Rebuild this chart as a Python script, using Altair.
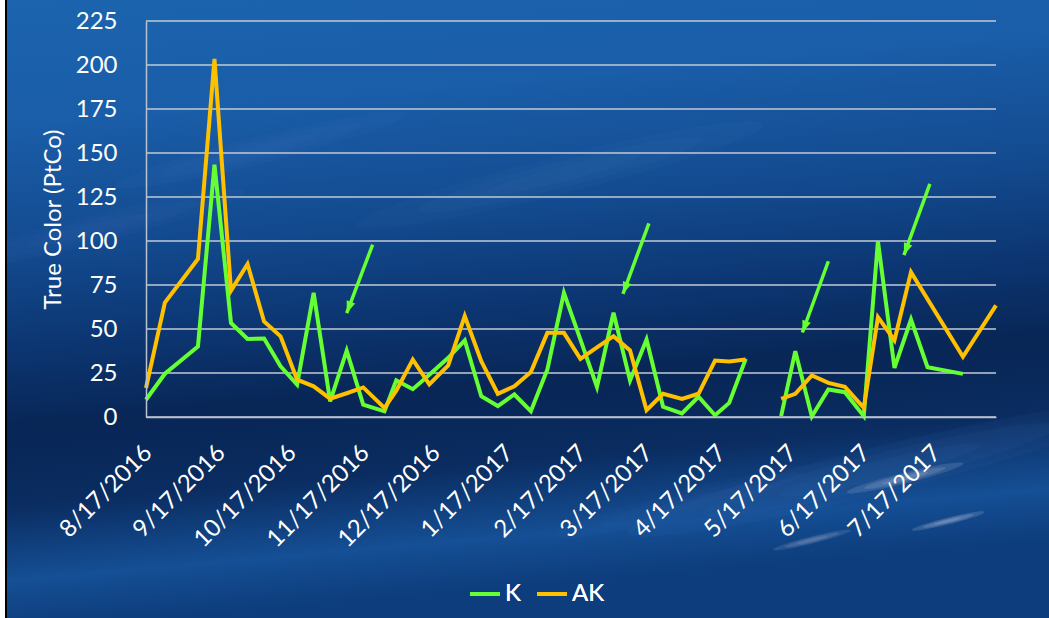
import altair as alt
import pandas as pd

# Sampling dates and true colour readings (PtCo) for the two sites
dates = [
    "2016-08-17", "2016-08-25", "2016-09-08", "2016-09-15", "2016-09-22", "2016-09-29",
    "2016-10-06", "2016-10-13", "2016-10-20", "2016-10-27", "2016-11-03", "2016-11-10",
    "2016-11-17", "2016-11-26", "2016-12-01", "2016-12-08", "2016-12-15", "2016-12-23",
    "2016-12-30", "2017-01-06", "2017-01-13", "2017-01-20", "2017-01-27", "2017-02-03",
    "2017-02-10", "2017-02-17", "2017-02-24", "2017-03-03", "2017-03-10", "2017-03-17",
    "2017-03-24", "2017-04-01", "2017-04-08", "2017-04-15", "2017-04-21", "2017-04-28",
    "2017-05-13", "2017-05-19", "2017-05-26", "2017-06-02", "2017-06-09", "2017-06-17",
    "2017-06-23", "2017-06-30", "2017-07-07", "2017-07-14", "2017-07-29", "2017-08-12",
]
k_vals = [
    9.8, 24.6, 40.1, 143.3, 53.4, 44.3,
    44.6, 28.8, 18.4, 70.5, 8.9, 37.7,
    7.0, 3.2, 20.8, 15.8, 24.0, 33.6,
    43.5, 11.8, 6.2, 12.8, 3.3, 27.0,
    70.5, 44.0, 17.1, 59.2, 20.7, 44.0,
    5.8, 2.0, 11.5, 1.0, 8.0, 33.0,
    0.5, 37.4, 0.3, 15.6, 14.1, 0.5,
    99.9, 27.9, 55.4, 28.3, 24.5, None,
]
ak_vals = [
    16.5, 65.0, 89.8, 203.4, 71.8, 86.9,
    54.3, 45.8, 21.2, 17.4, 10.4, 13.5,
    16.8, 5.1, 15.0, 32.6, 18.5, 29.3,
    57.3, 31.7, 13.2, 17.5, 25.5, 47.8,
    47.8, 33.0, 39.5, 45.9, 37.8, 3.9,
    13.2, 10.3, 13.2, 32.1, 31.5, 32.7,
    10.3, 13.2, 23.6, 19.4, 17.1, 5.2,
    56.7, 43.6, 82.3, None, 34.2, 63.4,
]
# No samples between these two dates: the lines break there
gap_after = "2017-04-28"

series_names = ["K", "AK"]
series_colors = ["#66FF33", "#FFC000"]

y_ticks = [0, 25, 50, 75, 100, 125, 150, 175, 200, 225]
x_ticks = [
    (2016, 8, 17), (2016, 9, 17), (2016, 10, 17), (2016, 11, 17), (2016, 12, 17),
    (2017, 1, 17), (2017, 2, 17), (2017, 3, 17), (2017, 4, 17), (2017, 5, 17),
    (2017, 6, 17), (2017, 7, 17),
]
x_start = (2016, 8, 17)
x_end = (2017, 8, 12)

# Highlight arrows: tail (date, value) -> head (date, value)
arrow_tail_dates = ["2016-11-21", "2017-03-18", "2017-06-02", "2017-07-15"]
arrow_tail_vals = [98.0, 110.0, 88.5, 132.5]
arrow_head_dates = ["2016-11-10", "2017-03-07", "2017-05-22", "2017-07-04"]
arrow_head_vals = [59.0, 70.0, 48.0, 92.0]

PAGE_W, PAGE_H = 1049, 618
W, H = 850, 396
LEFT, TOP = 146, 21
FONT = "Lato"

# Backdrop light streaks (page pixels): centre x, centre y, length, opacity, colour
streak_cx = [90, 260, 560, 880, 905, 948, 812, 700]
streak_cy = [230, 150, 175, 470, 478, 521, 540, 500]
streak_len = [320, 300, 420, 520, 120, 75, 80, 300]
streak_op = [0.06, 0.05, 0.05, 0.12, 0.30, 0.35, 0.28, 0.08]
streak_col = ["#9cc4f0", "#9cc4f0", "#9cc4f0", "#5d96d8", "#e4e0f4", "#e8e4f6", "#d8d4f0", "#5d96d8"]

rows = []
for d, k, ak in zip(dates, k_vals, ak_vals):
    part = 1 if d > gap_after else 0
    for name, v in (("K", k), ("AK", ak)):
        if v is not None:
            rows.append({"date": d, "value": v, "series": name, "run": f"{name}{part}"})
df = pd.DataFrame(rows)

arrows = pd.DataFrame({
    "d0": arrow_tail_dates, "v0": arrow_tail_vals,
    "d1": arrow_head_dates, "v1": arrow_head_vals,
})
grid_df = pd.DataFrame({"value": y_ticks})

# Each streak is drawn as three nested ellipses to soften its edge
streak_rows = []
for cx, cy, ln, op, col in zip(streak_cx, streak_cy, streak_len, streak_op, streak_col):
    for f in (1.0, 0.7, 0.4):
        streak_rows.append({
            "px": cx - LEFT, "py": cy - TOP,
            "sz": (ln * f) ** 2, "op": op / 2.2, "col": col,
        })
streaks_df = pd.DataFrame(streak_rows)


def dt(t):
    return alt.DateTime(year=t[0], month=t[1], date=t[2], utc=True)


x_scale = alt.Scale(type="utc", domain=[dt(x_start), dt(x_end)], nice=False)
y_scale = alt.Scale(domain=[0, 225], nice=False)
color_scale = alt.Scale(domain=series_names, range=series_colors)

background = alt.Chart(pd.DataFrame({"a": [0]})).mark_rect(
    clip=False,
    strokeWidth=0,
    color=alt.LinearGradient(
        gradient="linear", x1=0, x2=0.15, y1=0, y2=1,
        stops=[
            alt.GradientStop(color="#1c64ae", offset=0.0),
            alt.GradientStop(color="#1a5da8", offset=0.2),
            alt.GradientStop(color="#134a8f", offset=0.4),
            alt.GradientStop(color="#0c3672", offset=0.55),
            alt.GradientStop(color="#082656", offset=0.68),
            alt.GradientStop(color="#0a2c60", offset=0.8),
            alt.GradientStop(color="#154f95", offset=0.92),
            alt.GradientStop(color="#0d3d7c", offset=1.0),
        ],
    ),
).encode(
    x=alt.value(-LEFT), x2=alt.value(PAGE_W - LEFT),
    y=alt.value(-TOP), y2=alt.value(PAGE_H - TOP),
)

streaks = alt.Chart(streaks_df).mark_point(
    shape="M-1,0 A1,0.09 0 1,0 1,0 A1,0.09 0 1,0 -1,0 Z",
    filled=True,
    strokeWidth=0,
    angle=346,
    clip=False,
).encode(
    x=alt.X("px:Q", scale=None),
    y=alt.Y("py:Q", scale=None),
    size=alt.Size("sz:Q", scale=None, legend=None),
    opacity=alt.Opacity("op:Q", scale=None, legend=None),
    color=alt.Color("col:N", scale=None, legend=None),
)

edge_white = alt.Chart(pd.DataFrame({"a": [0]})).mark_rect(clip=False, color="#ffffff").encode(
    x=alt.value(-LEFT), x2=alt.value(-LEFT + 5), y=alt.value(-TOP), y2=alt.value(PAGE_H - TOP)
)
edge_black = alt.Chart(pd.DataFrame({"a": [0]})).mark_rect(clip=False, color="#000000").encode(
    x=alt.value(-LEFT + 5), x2=alt.value(-LEFT + 7), y=alt.value(-TOP), y2=alt.value(PAGE_H - TOP)
)

# Horizontal gridlines, drawn above the backdrop and below the series
grid = alt.Chart(grid_df).mark_rule(color="#c3cad6", strokeWidth=1.5).encode(
    y=alt.Y("value:Q", scale=y_scale), x=alt.value(0), x2=alt.value(W)
)

x_enc = alt.X(
    "date:T",
    scale=x_scale,
    axis=alt.Axis(
        title=None,
        values=[dt(t) for t in x_ticks],
        format="%-m/%-d/%Y",
        labelAngle=-45,
        labelAlign="right",
        labelBaseline="middle",
        labelPadding=32,
        labelOffset=2,
        ticks=False,
        grid=False,
        domainColor="#b9c2cf",
        domainWidth=1.5,
        labelColor="#ffffff",
        labelFont=FONT,
        labelFontSize=24,
        labelOverlap=False,
        labelBound=False,
        labelFlush=False,
        zindex=1,
    ),
)
y_enc = alt.Y(
    "value:Q",
    scale=y_scale,
    axis=alt.Axis(
        title="True Color (PtCo)",
        values=y_ticks,
        ticks=False,
        labelPadding=29,
        grid=False,
        domainColor="#b9c2cf",
        domainWidth=1.5,
        labelColor="#ffffff",
        labelFont=FONT,
        labelFontSize=24,
        titleColor="#ffffff",
        titleFont=FONT,
        titleFontSize=24,
        titleFontWeight="normal",
        titlePadding=10,
        zindex=1,
    ),
)

legend = alt.Legend(
    title=None,
    orient="none",
    legendX=322,
    legendY=556,
    direction="horizontal",
    symbolType="stroke",
    symbolSize=900,
    symbolStrokeWidth=4,
    columnPadding=8,
    labelOffset=3,
    labelColor="#ffffff",
    labelFont=FONT,
    labelFontSize=24,
)

base = alt.Chart(df).encode(
    x=x_enc,
    y=y_enc,
    color=alt.Color("series:N", scale=color_scale, legend=legend),
    detail="run:N",
    order="date:T",
)

k_line = base.transform_filter(alt.datum.series == "K").mark_line(strokeWidth=4, strokeJoin="miter")
ak_line = base.transform_filter(alt.datum.series == "AK").mark_line(strokeWidth=4, strokeJoin="miter")

arrow_shafts = alt.Chart(arrows).mark_rule(color="#66FF33", strokeWidth=3.5).encode(
    x="d0:T", x2="d1:T", y="v0:Q", y2="v1:Q"
)
arrow_heads = alt.Chart(arrows).mark_point(
    shape="M0,0 L-0.9,-2.4 L0.9,-2.4 Z",
    size=100,
    filled=True,
    opacity=1,
    color="#66FF33",
    angle=20.6,
).encode(x="d1:T", y="v1:Q")

chart = alt.layer(
    background, streaks, edge_white, edge_black, grid,
    k_line, ak_line, arrow_shafts, arrow_heads
).resolve_scale(color="independent").properties(
    width=W,
    height=H,
    autosize=alt.AutoSizeParams(type="none"),
    padding={"left": LEFT, "top": TOP, "right": PAGE_W - LEFT - W, "bottom": PAGE_H - TOP - H},
    background="#0b3672",
).configure_view(stroke=None)

chart.save("out.html", embed_options={"renderer": "svg", "actions": False})
